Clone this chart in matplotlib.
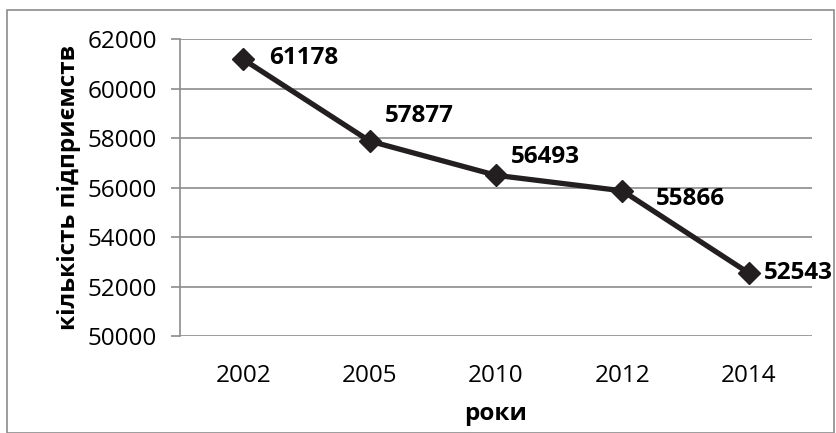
import matplotlib
matplotlib.use("Agg")
import matplotlib.pyplot as plt
from matplotlib.patches import Rectangle

years = ["2002", "2005", "2010", "2012", "2014"]
counts = [61178, 57877, 56493, 55866, 52543]
label_offsets = [(19, 1), (11, 18), (11, 13), (24, -6), (11, 0)]
yticks = [50000, 52000, 54000, 56000, 58000, 60000, 62000]

plt.rcParams['font.family'] = ['Open Sans', 'DejaVu Sans']
FS = 17.5

fig = plt.figure(figsize=(8.36, 4.33), dpi=100)
ax = fig.add_axes([180/836, 1-336/433, 632/836, (336-39)/433])

x = list(range(len(years)))
ax.plot(x, counts, color='#231f20', lw=3.8, marker='D', markersize=11, zorder=3)
for xi, v, (dx, dy) in zip(x, counts, label_offsets):
    ax.annotate(str(v), (xi, v), xytext=(dx, dy), textcoords='offset points',
                ha='left', va='center', fontsize=FS, fontweight='bold', color='black')

ax.set_xlim(-0.5, 4.5)
ax.set_ylim(50000, 62000)
ax.set_yticks(yticks)
ax.set_yticklabels([str(t) for t in yticks])
ax.set_xticks(x)
ax.set_xticklabels(years)
ax.grid(axis='y', color='#8c8c8c', lw=1.2)
ax.set_axisbelow(True)
for s in ['top', 'right', 'bottom']:
    ax.spines[s].set_visible(False)
ax.spines['left'].set_color('#8c8c8c')
ax.spines['left'].set_linewidth(1.2)
ax.tick_params(axis='y', length=6.5, color='#8c8c8c', width=1.2, labelsize=FS, pad=10)
ax.tick_params(axis='x', length=0, labelsize=FS, pad=20)
ax.set_ylabel('кількість підприємств', fontsize=FS, fontweight='bold', labelpad=5)
ax.set_xlabel('роки', fontsize=FS, fontweight='bold', labelpad=10)

fig.patches.append(Rectangle((7/836, 0), 827/836, 1-10/433, transform=fig.transFigure,
                             fill=False, edgecolor='#8c8c8c', lw=1.2))
fig.savefig('out.png', dpi=100)
